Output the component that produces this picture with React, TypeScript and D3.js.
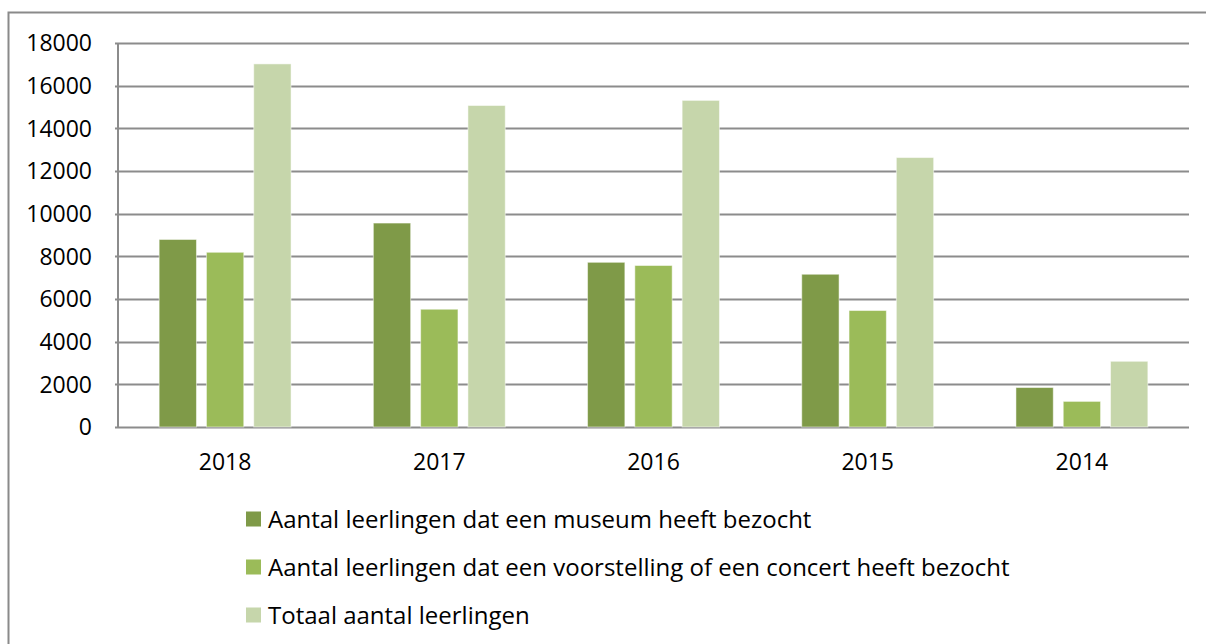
import { useEffect, useRef } from "react";
import * as d3 from "d3";

const years = ["2018", "2017", "2016", "2015", "2014"];
const museum = [8790, 9560, 7720, 7160, 1850];
const voorstelling = [8190, 5520, 7570, 5460, 1200];
const totaal = [17020, 15070, 15310, 12630, 3080];
const yTicks = [0, 2000, 4000, 6000, 8000, 10000, 12000, 14000, 16000, 18000];

const seriesNames = [
  "Aantal leerlingen dat een museum heeft bezocht",
  "Aantal leerlingen dat een voorstelling of een concert heeft bezocht",
  "Totaal aantal leerlingen",
];
const colors = ["#7f9a48", "#9bbb59", "#c6d6ab"];

const W = 1206;
const H = 644;
const FONT = "'Open Sans', sans-serif";

const App = () => {
  const ref = useRef<SVGSVGElement>(null);

  useEffect(() => {
    const svg = d3.select(ref.current);
    svg.selectAll("*").remove();

    const left = 118;
    const right = 1189;
    const top = 43;
    const bottom = 427;

    // outer frame
    svg
      .append("rect")
      .attr("x", 8.5)
      .attr("y", 12.5)
      .attr("width", W)
      .attr("height", H)
      .attr("fill", "white")
      .attr("stroke", "#8a8a8a")
      .attr("stroke-width", 2);

    const x = d3.scaleBand().domain(years).range([left, right]);
    const y = d3.scaleLinear().domain([0, 18000]).range([bottom, top]);

    const inner = d3
      .scaleBand()
      .domain(["0", "1", "2"])
      .range([0, x.bandwidth()])
      .paddingInner(0.211)
      .paddingOuter(0.87);

    // gridlines
    const grid = svg.append("g");
    grid
      .selectAll("line")
      .data(yTicks)
      .enter()
      .append("line")
      .attr("x1", left - 3)
      .attr("x2", right)
      .attr("y1", (d) => Math.round(y(d)) + 0.5)
      .attr("y2", (d) => Math.round(y(d)) + 0.5)
      .attr("stroke", "#8c8c8c")
      .attr("stroke-width", 2);

    grid
      .append("line")
      .attr("x1", left)
      .attr("x2", left)
      .attr("y1", y(18000))
      .attr("y2", y(0) + 1)
      .attr("stroke", "#8c8c8c")
      .attr("stroke-width", 2);

    // y labels
    svg
      .append("g")
      .selectAll("text")
      .data(yTicks)
      .enter()
      .append("text")
      .attr("x", 92)
      .attr("y", (d) => y(d))
      .attr("dy", "0.36em")
      .attr("text-anchor", "end")
      .attr("font-family", FONT)
      .attr("font-size", 23)
      .attr("fill", "#000")
      .text((d) => d);

    // bars
    const allSeries = [museum, voorstelling, totaal];
    allSeries.forEach((vals, si) => {
      svg
        .append("g")
        .selectAll("rect")
        .data(vals)
        .enter()
        .append("rect")
        .attr("x", (_, i) => (x(years[i]) ?? 0) + (inner(String(si)) ?? 0))
        .attr("y", (d) => y(d))
        .attr("width", inner.bandwidth())
        .attr("height", (d) => y(0) - y(d))
        .attr("fill", colors[si])
        .attr("stroke", "rgba(255,255,255,0.5)")
        .attr("stroke-width", 1);
    });

    // x labels
    svg
      .append("g")
      .selectAll("text")
      .data(years)
      .enter()
      .append("text")
      .attr("x", (d) => (x(d) ?? 0) + x.bandwidth() / 2)
      .attr("y", 470)
      .attr("text-anchor", "middle")
      .attr("font-family", FONT)
      .attr("font-size", 23)
      .attr("fill", "#000")
      .text((d) => d);

    // legend
    const legend = svg.append("g");
    seriesNames.forEach((name, i) => {
      const cy = 519 + i * 48;
      legend
        .append("rect")
        .attr("x", 246)
        .attr("y", cy - 7.5)
        .attr("width", 15)
        .attr("height", 15)
        .attr("fill", colors[i]);
      legend
        .append("text")
        .attr("x", 268)
        .attr("y", cy)
        .attr("dy", "0.36em")
        .attr("font-family", FONT)
        .attr("font-size", 24)
        .attr("fill", "#000")
        .text(name);
    });
  }, []);

  return (
    <svg
      ref={ref}
      width={W}
      height={H}
      style={{ position: "absolute", left: 0, top: 0, background: "white" }}
    ></svg>
  );
};

export default App;
